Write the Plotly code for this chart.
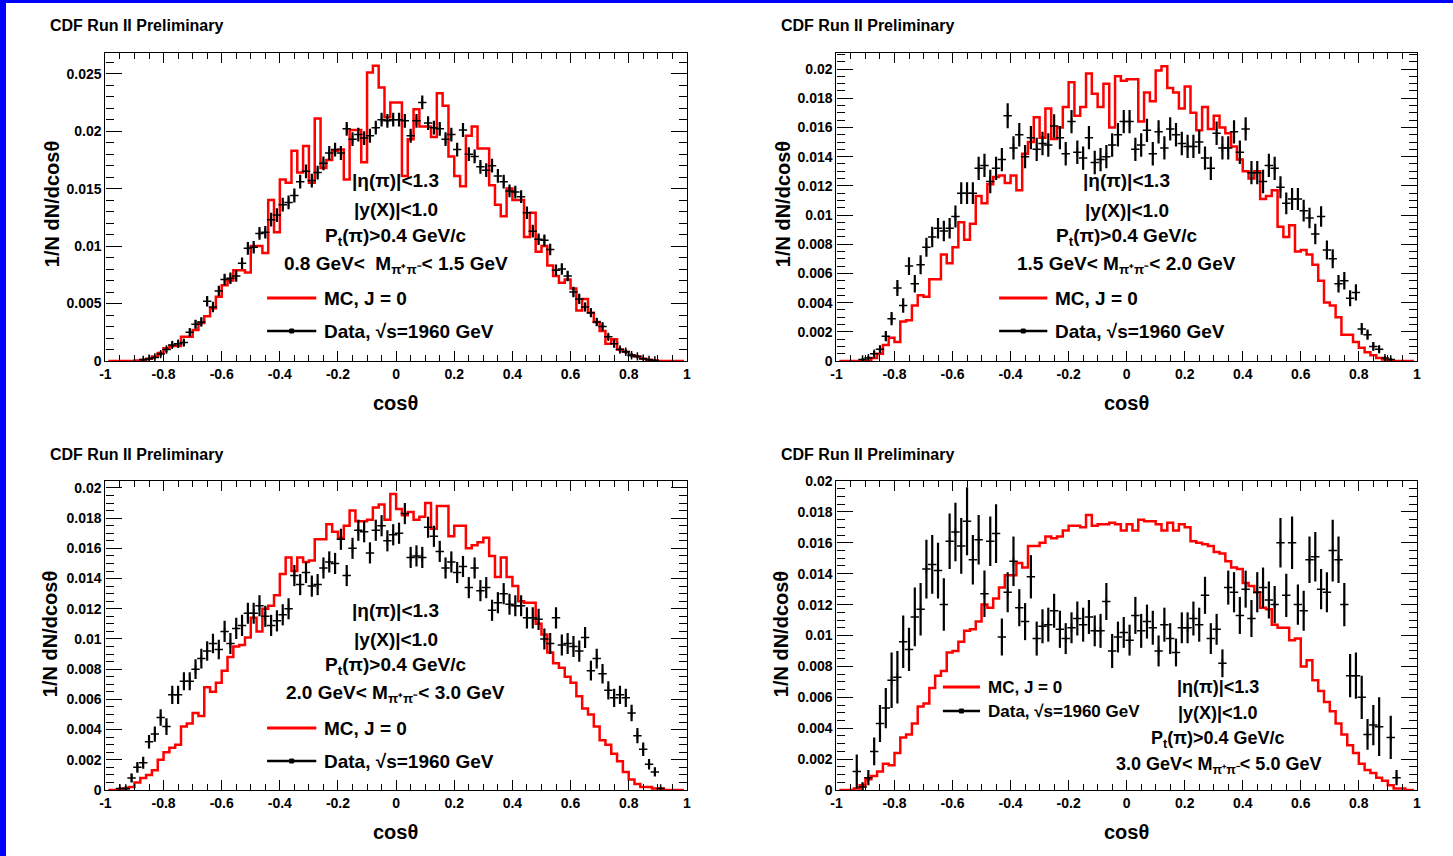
import numpy as np
import plotly.graph_objects as go

W, H = 1453, 856
FONT = "Liberation Sans, Arial, Helvetica, sans-serif"

# ---------------- data (values in units of 1e-3) ----------------
cos_bins = np.round(np.linspace(-0.99, 0.99, 100), 2)

mc_p1 = [0, 0, 0, 0, 0, 0.05, 0.1, 0.2, 0.4, 0.7,
         1.1, 1.3, 1.3, 2.1, 2.1, 2.7, 3.3, 3.9, 4.6, 5.6,
         6.6, 7.0, 7.9, 7.9, 7.7, 10.0, 10.0, 9.4, 14.0, 11.2,
         15.8, 15.5, 18.3, 16.4, 18.7, 15.5, 21.1, 16.8, 17.5, 18.3,
         18.4, 15.8, 20.1, 20.1, 17.3, 25.1, 25.7, 23.8, 21.2, 22.5,
         22.5, 16.1, 19.3, 21.9, 20.4, 20.4, 19.5, 23.3, 22.2, 17.8,
         16.1, 15.2, 19.6, 20.4, 18.5, 18.5, 15.3, 13.6, 12.6, 15.0,
         14.0, 14.0, 10.8, 12.9, 9.5, 10.0, 8.3, 7.4, 6.8, 7.1,
         6.3, 4.4, 5.4, 4.2, 3.4, 2.6, 1.5, 1.9, 1.0, 0.8,
         0.5, 0.4, 0.2, 0.1, 0.05, 0, 0, 0, 0, 0]
data_p1 = [None, None, None, None, None, None, 0.1, 0.2, 0.3, 0.6,
           1.0, 1.4, 1.5, 1.6, 2.5, 3.2, 3.4, 5.2, 4.7, 6.1,
           7.1, 7.2, 7.4, 8.5, 9.8, 9.9, 11.1, 11.2, 12.3, 12.7,
           13.6, 13.8, 14.4, 15.6, 16.5, 15.7, 16.4, 17.2, 18.1, 18.4,
           18.1, 20.2, 19.3, 19.7, 19.4, 19.6, 20.3, 21.0, 20.9, 21.0,
           21.0, 20.9, 19.6, 20.9, 22.5, 20.7, 20.3, 20.2, 19.3, 19.7,
           18.4, 20.1, 18.0, 17.8, 16.9, 16.6, 17.0, 16.1, 15.6, 14.8,
           14.7, 14.3, 12.9, 11.3, 10.6, 10.5, 9.7, 7.9, 8.0, 7.4,
           6.0, 5.4, 4.7, 4.2, 3.4, 3.0, 2.1, 1.5, 1.0, 0.8,
           0.5, 0.4, 0.2, 0.1, 0.05, None, None, None, None, None]
err_p1 = [0, 0, 0, 0, 0, 0,
          0.1, 0.1, 0.15, 0.2, 0.25, 0.3, 0.3, 0.3, 0.35, 0.4,
          0.4, 0.45, 0.45, 0.45, 0.5, 0.5, 0.5, 0.5, 0.55, 0.55,
          0.55, 0.55, 0.6, 0.6, 0.6, 0.6, 0.6, 0.6, 0.6, 0.6,
          0.6, 0.6, 0.6, 0.6, 0.6, 0.6, 0.6, 0.6, 0.6, 0.6,
          0.6, 0.6, 0.6, 0.6,
          0.6, 0.6, 0.6, 0.6, 0.6, 0.6, 0.6, 0.6, 0.6, 0.6,
          0.6, 0.6, 0.6, 0.6, 0.6, 0.6, 0.6, 0.6, 0.6, 0.55,
          0.55, 0.55, 0.55, 0.55, 0.5, 0.5, 0.5, 0.5, 0.5, 0.45,
          0.45, 0.45, 0.4, 0.4, 0.35, 0.35, 0.3, 0.3, 0.25, 0.2,
          0.2, 0.15, 0.1, 0.1, 0.05, 0, 0, 0, 0, 0]

mc_p2 = [0, 0, 0, 0, 0, 0, 0.2, 0.5, 1.1, 1.6,
         1.3, 2.7, 2.8, 3.8, 4.5, 4.4, 5.6, 5.6, 7.3, 6.7,
         7.8, 9.5, 8.3, 9.4, 11.3, 10.8, 12.1, 12.6, 12.7, 12.2,
         12.7, 11.7, 14.2, 15.0, 16.7, 15.3, 17.3, 15.2, 16.0, 17.4,
         19.1, 16.8, 17.4, 19.7, 18.3, 17.4, 19.0, 16.0, 19.5, 19.2,
         19.3, 19.3, 16.4, 18.4, 17.8, 19.9, 20.2, 18.7, 18.4, 17.3,
         18.8, 17.0, 15.8, 17.4, 15.9, 16.8, 16.0, 15.6, 14.7, 13.8,
         13.0, 12.5, 13.0, 11.1, 11.3, 11.7, 9.2, 8.5, 9.3, 7.5,
         7.6, 7.3, 6.6, 5.5, 4.0, 3.8, 3.0, 1.8, 1.8, 1.3,
         0.9, 0.6, 0.4, 0.2, 0.1, 0, 0, 0, 0, 0]
data_p2 = [None, None, None, None, 0.1, 0.2, 0.5, 0.8, 1.7, 2.9,
           5.0, 3.8, 6.5, 5.3, 6.6, 7.8, 8.5, 9.1, 8.9, 9.1,
           9.9, 11.5, 11.5, 11.5, 13.2, 13.4, 12.3, 13.2, 13.8, 16.8,
           14.6, 15.5, 14.0, 15.3, 14.5, 14.9, 14.8, 16.1, 15.3, 14.2,
           16.4, 14.3, 13.9, 15.3, 13.6, 13.8, 14.0, 14.8, 15.5, 16.4,
           16.4, 14.5, 14.8, 15.8, 14.2, 15.7, 14.6, 15.9, 15.5, 14.9,
           14.7, 14.7, 15.0, 13.9, 13.2, 15.6, 14.6, 14.6, 15.7, 14.3,
           15.9, 12.9, 12.9, 12.3, 13.4, 13.2, 11.9, 10.8, 11.1, 11.1,
           10.3, 9.8, 8.7, 9.9, 7.6, 7.0, 5.3, 5.5, 4.3, 4.7,
           2.2, 1.8, 1.0, 0.8, 0.2, 0.1, None, None, None, None]
err_p2 = [0, 0, 0, 0, 0.1, 0.15, 0.2, 0.25, 0.35, 0.45,
          0.55, 0.5, 0.6, 0.6, 0.65, 0.65, 0.7, 0.7, 0.7, 0.7,
          0.75, 0.75, 0.75, 0.75, 0.8, 0.8, 0.8, 0.8, 0.8, 0.85,
          0.8, 0.8, 0.8, 0.8, 0.8, 0.8, 0.8, 0.8, 0.8, 0.8,
          0.8, 0.8, 0.8, 0.8, 0.8, 0.8, 0.8, 0.8, 0.8, 0.8,
          0.8, 0.8, 0.8, 0.8, 0.8, 0.8, 0.8, 0.8, 0.8, 0.8,
          0.8, 0.8, 0.8, 0.8, 0.8, 0.8, 0.8, 0.8, 0.8, 0.8,
          0.8, 0.8, 0.8, 0.8, 0.8, 0.8, 0.75, 0.75, 0.75, 0.75,
          0.75, 0.7, 0.7, 0.7, 0.65, 0.65, 0.6, 0.6, 0.55, 0.55,
          0.4, 0.35, 0.3, 0.25, 0.15, 0.1, 0, 0, 0, 0]

mc_p3 = [0, 0, 0, 0.1, 0.2, 0.5, 0.8, 1.0, 1.3, 2.0,
         2.5, 2.8, 3.0, 4.2, 4.4, 5.1, 4.9, 6.8, 6.5, 7.1,
         7.9, 8.8, 9.5, 9.6, 10.1, 11.4, 10.5, 12.0, 12.2, 12.9,
         14.3, 15.4, 14.5, 15.4, 15.1, 15.2, 16.6, 16.6, 17.6, 17.1,
         16.7, 17.5, 18.5, 17.8, 17.8, 17.9, 18.7, 18.9, 17.9, 19.6,
         18.6, 18.2, 18.4, 17.9, 18.1, 19.0, 17.3, 18.8, 18.8, 16.8,
         17.5, 17.5, 16.0, 16.2, 16.4, 16.7, 15.5, 14.1, 15.4, 14.1,
         13.5, 12.5, 12.4, 12.4, 11.0, 10.3, 9.1, 8.4, 8.1, 7.5,
         7.1, 6.2, 5.4, 5.0, 4.2, 3.3, 3.0, 2.4, 1.9, 1.2,
         0.7, 0.4, 0.2, 0.2, 0.1, 0.1, 0, 0, 0, 0]
data_p3 = [None, None, 0.1, 0.1, 0.8, 1.5, 1.8, 3.2, 3.7, 4.8,
           4.2, 6.3, 6.3, 7.2, 7.2, 8.0, 8.7, 9.2, 9.7, 9.3,
           10.5, 9.7, 10.7, 10.9, 11.7, 11.7, 12.2, 11.5, 10.9, 11.2,
           11.6, 12.0, 14.2, 13.6, 14.4, 13.5, 13.6, 14.7, 15.1, 15.0,
           16.6, 14.2, 16.0, 17.2, 17.1, 15.7, 17.2, 17.5, 16.5, 16.9,
           17.0, 18.3, 15.4, 15.5, 15.4, 17.4, 16.8, 15.8, 14.7, 15.1,
           14.4, 14.8, 13.4, 14.7, 13.2, 13.4, 11.9, 12.4, 13.0, 12.3,
           12.2, 12.2, 11.4, 11.4, 11.3, 10.0, 9.7, 11.4, 9.6, 9.7,
           9.5, 9.2, 10.1, 7.9, 8.7, 7.7, 6.6, 6.1, 6.3, 6.1,
           5.1, 3.6, 2.7, 1.7, 1.2, 0.1, None, None, None, None]
err_p3 = [0, 0, 0.1, 0.15, 0.3, 0.35, 0.4, 0.45, 0.5, 0.55,
          0.55, 0.6, 0.6, 0.6, 0.6, 0.65, 0.65, 0.65, 0.65, 0.65,
          0.7, 0.7, 0.7, 0.7, 0.7, 0.7, 0.7, 0.7, 0.7, 0.7,
          0.7, 0.7, 0.7, 0.7, 0.7, 0.7, 0.7, 0.7, 0.7, 0.7,
          0.7, 0.7, 0.7, 0.7, 0.7, 0.7, 0.7, 0.7, 0.7, 0.7,
          0.7, 0.7, 0.7, 0.7, 0.7, 0.7, 0.7, 0.7, 0.7, 0.7,
          0.7, 0.7, 0.7, 0.7, 0.7, 0.7, 0.7, 0.7, 0.7, 0.7,
          0.7, 0.7, 0.7, 0.7, 0.7, 0.7, 0.7, 0.7, 0.7, 0.7,
          0.7, 0.7, 0.7, 0.65, 0.65, 0.65, 0.6, 0.6, 0.6, 0.6,
          0.55, 0.5, 0.45, 0.35, 0.3, 0.1, 0, 0, 0, 0]

mc_p4 = [0, 0, 0, 0.1, 0.3, 0.7, 0.9, 1.2, 1.7, 1.6,
         2.4, 3.4, 3.6, 4.3, 5.4, 5.6, 6.6, 7.4, 7.7, 8.9,
         9.0, 9.6, 10.3, 10.4, 10.9, 12.0, 11.8, 12.4, 13.1, 13.9,
         13.9, 14.7, 14.4, 15.8, 15.8, 16.0, 16.4, 16.3, 16.4, 16.8,
         17.1, 17.1, 17.0, 17.8, 17.1, 17.2, 17.2, 17.3, 17.2, 16.8,
         17.2, 16.8, 17.5, 17.4, 17.4, 17.2, 16.8, 17.3, 16.8, 17.2,
         17.0, 16.1, 16.0, 15.9, 15.8, 15.4, 15.3, 14.8, 14.4, 14.3,
         13.4, 13.2, 12.8, 11.8, 11.7, 10.7, 10.5, 10.5, 9.7, 9.8,
         8.0, 8.4, 7.1, 6.4, 5.7, 5.1, 4.3, 3.6, 2.9, 2.4,
         1.7, 1.3, 1.1, 0.8, 0.6, 0.3, 0.1, 0.1, 0, 0]
data_p4 = [None, None, None, 1.2, 0.2, 0.8, 2.5, 4.3, 5.3, 7.1,
           7.3, 9.6, 9.1, 11.2, 11.7, 14.3, 14.6, 14.2, 12.0, 16.1,
           16.7, 15.8, 17.4, 14.9, 16.2, 12.7, 16.1, 16.6, 9.9, 12.8,
           14.8, 11.8, 10.9, 13.8, 9.8, 10.6, 10.7, 11.6, 10.4, 9.8,
           10.5, 11.1, 10.7, 11.2, 10.3, 10.3, 12.2, 9.0, 9.9, 10.2,
           9.7, 11.3, 10.3, 10.9, 10.5, 9.0, 10.7, 9.8, 8.9, 10.5,
           10.5, 11.1, 10.7, 12.6, 9.8, 10.4, 8.2, 13.1, 12.8, 11.3,
           13.0, 11.1, 12.8, 13.1, 12.3, 12.0, 16.0, 12.6, 16.0, 12.0,
           11.6, 14.9, 15.1, 13.0, 12.8, 15.5, 14.9, 12.0, 7.4, 7.4,
           6.0, 3.6, 4.2, 4.1, None, 3.4, 0.8, None, None, None]
err_p4 = [0, 0, 0, 1.1, 0.3, 0.5, 0.9, 1.2, 1.3, 1.8,
          1.7, 1.7, 1.4, 1.9, 1.7, 1.9, 1.9, 1.8, 1.7, 1.8,
          1.9, 1.8, 2.2, 1.6, 1.6, 1.5, 1.6, 1.9, 1.2, 1.3,
          1.6, 1.2, 1.2, 1.4, 1.1, 1.1, 1.1, 1.1, 1.2, 1.0,
          1.0, 1.1, 1.1, 1.1, 1.0, 1.1, 1.2, 1.1, 1.0, 1.0,
          1.0, 1.2, 1.1, 1.1, 1.1, 1.0, 1.1, 1.0, 0.9, 1.0,
          1.0, 1.1, 1.1, 1.2, 1.0, 1.0, 0.9, 1.1, 1.3, 1.2,
          1.2, 1.2, 1.3, 1.3, 1.2, 1.2, 1.6, 1.4, 1.7, 1.3,
          1.3, 1.5, 1.6, 1.3, 1.3, 2.0, 1.5, 1.4, 1.4, 1.5,
          1.4, 1.0, 1.3, 1.9, 0, 1.4, 0.5, 0, 0, 0]

x_tick_vals = [-1, -0.8, -0.6, -0.4, -0.2, 0, 0.2, 0.4, 0.6, 0.8, 1]
x_tick_text = ["-1", "-0.8", "-0.6", "-0.4", "-0.2", "0", "0.2", "0.4", "0.6", "0.8", "1"]
y1_tick_vals = [0, 0.005, 0.01, 0.015, 0.02, 0.025]
y1_tick_text = ["0", "0.005", "0.01", "0.015", "0.02", "0.025"]
y2_tick_vals = [0, 0.002, 0.004, 0.006, 0.008, 0.01, 0.012, 0.014, 0.016, 0.018, 0.02]
y2_tick_text = ["0", "0.002", "0.004", "0.006", "0.008", "0.01", "0.012", "0.014", "0.016", "0.018", "0.02"]

cuts = ["|η(π)|<1.3", "|y(X)|<1.0", "P<sub>t</sub>(π)>0.4 GeV/c"]
mass_labels = ["0.8 GeV<\u00a0\u00a0M<sub>π⁺π⁻</sub>< 1.5 GeV",
               "1.5 GeV< M<sub>π⁺π⁻</sub>< 2.0 GeV",
               "2.0 GeV< M<sub>π⁺π⁻</sub>< 3.0 GeV",
               "3.0 GeV< M<sub>π⁺π⁻</sub>< 5.0 GeV"]
mc_label = "MC, J = 0"
data_label = "Data, √s=1960 GeV"


def arr(v):
    return np.array([np.nan if a is None else a for a in v], dtype=float) * 1e-3


# ---------------- layout geometry (pixels) ----------------
panels = [
    dict(x0=107, x1=686, y0=53, y1=361, ymax=0.0268, yv=y1_tick_vals, yt=y1_tick_text,
         minor=0.001, mc=mc_p1, data=data_p1, err=err_p1),
    dict(x0=835, x1=1413, y0=53, y1=361, ymax=0.0211, yv=y2_tick_vals, yt=y2_tick_text,
         minor=0.0005, mc=mc_p2, data=data_p2, err=err_p2),
    dict(x0=107, x1=686, y0=481, y1=790, ymax=0.02046, yv=y2_tick_vals, yt=y2_tick_text,
         minor=0.0005, mc=mc_p3, data=data_p3, err=err_p3),
    dict(x0=835, x1=1413, y0=481, y1=790, ymax=0.0200, yv=y2_tick_vals, yt=y2_tick_text,
         minor=0.0005, mc=mc_p4, data=data_p4, err=err_p4),
]

# the plotting area observed in the rendered page is inset by this many pixels
INSET = 8
PW, PH = W - 2 * INSET, H - 2 * INSET


def fx(px):
    return (px - INSET) / PW


def fy(py):
    return 1 - (py - INSET) / PH


fig = go.Figure()
layout = dict(width=W, height=H, margin=dict(l=0, r=0, t=0, b=0, pad=0),
              paper_bgcolor="#0000FF", plot_bgcolor="white", showlegend=False,
              font=dict(family=FONT, color="black"))

tickfont = dict(family=FONT, size=14, color="black", weight="bold")
for i, p in enumerate(panels):
    n = "" if i == 0 else str(i + 1)
    layout["xaxis" + n] = dict(
        domain=[fx(p["x0"]), fx(p["x1"])], range=[-1, 1], anchor="y" + n,
        showline=True, mirror="allticks", linecolor="black", linewidth=1.2,
        ticks="inside", ticklen=10, tickwidth=1.2, tickcolor="black",
        tickmode="array", tickvals=x_tick_vals, ticktext=x_tick_text,
        minor=dict(ticks="inside", ticklen=6, tickwidth=1, tickcolor="black",
                   tickmode="linear", tick0=-1, dtick=0.05, showgrid=False),
        showgrid=False, zeroline=False, tickfont=tickfont, fixedrange=True)
    layout["yaxis" + n] = dict(
        domain=[fy(p["y1"]), fy(p["y0"])], range=[0, p["ymax"]], anchor="x" + n,
        showline=True, mirror="allticks", linecolor="black", linewidth=1.2,
        ticks="inside", ticklen=16, tickwidth=1.2, tickcolor="black",
        tickmode="array", tickvals=p["yv"], ticktext=p["yt"],
        minor=dict(ticks="inside", ticklen=8, tickwidth=1, tickcolor="black",
                   tickmode="linear", tick0=0, dtick=p["minor"], showgrid=False),
        showgrid=False, zeroline=False, tickfont=tickfont, fixedrange=True)

    fig.add_trace(go.Scatter(
        x=cos_bins, y=arr(p["mc"]), mode="lines",
        line=dict(color="#FF0000", width=2.5, shape="hvh"),
        xaxis="x" + n, yaxis="y" + n, hoverinfo="skip"))
    fig.add_trace(go.Scatter(
        x=cos_bins, y=arr(p["data"]), mode="markers",
        marker=dict(color="black", size=6, symbol="cross-thin",
                    line=dict(color="black", width=1.5)),
        error_y=dict(type="data", array=arr(p["err"]), color="black",
                     thickness=2.2, width=0),
        xaxis="x" + n, yaxis="y" + n, hoverinfo="skip"))

annotations = []
shapes = [dict(type="rect", xref="paper", yref="paper", x0=fx(8), x1=fx(W + 2),
               y0=fy(H + 2), y1=fy(3), fillcolor="white", line=dict(width=0), layer="below")]


def txt(s, px, py, size, xanchor="center", angle=0):
    annotations.append(dict(text=s, x=fx(px), y=fy(py), xref="paper", yref="paper",
                            xanchor=xanchor, yanchor="middle", showarrow=False,
                            textangle=angle,
                            font=dict(family=FONT, size=size, color="black", weight="bold")))


# header labels and axis titles
for (hx, hy) in [(50, 25), (778, 25), (50, 454), (778, 454)]:
    txt("CDF Run II Preliminary", hx, hy, 16, xanchor="left")
for (ax_x, ax_y) in [(54, 204), (782, 204), (52, 634), (780, 634)]:
    txt("1/N dN/dcosθ", ax_x, ax_y, 20, angle=-90)
for (tx, ty) in [(396, 403), (1124, 403), (396, 832), (1124, 832)]:
    txt("cosθ", tx, ty, 20)

# cut texts
cut_pos = [(396, [181, 209, 237, 265]), (1124, [181, 210, 237, 265]),
           (396, [610, 639, 666, 694]), (1215, [687, 713, 739, 765])]
for k, (cx, ys) in enumerate(cut_pos):
    size = 19 if k < 3 else 18
    for j, s in enumerate(cuts + [mass_labels[k]]):
        txt(s, cx, ys[j], size)

# legends
leg = [(268, 317, 298, 331, 19), (997, 1045, 298, 331, 19),
       (268, 317, 728, 761, 19), (941, 978, 687, 711, 17)]
for (lx0, lx1, ly1, ly2, size) in leg:
    shapes.append(dict(type="line", xref="paper", yref="paper", x0=fx(lx0), x1=fx(lx1),
                       y0=fy(ly1), y1=fy(ly1), line=dict(color="#FF0000", width=3)))
    shapes.append(dict(type="line", xref="paper", yref="paper", x0=fx(lx0), x1=fx(lx1),
                       y0=fy(ly2), y1=fy(ly2), line=dict(color="black", width=2.5)))
    mx = (lx0 + lx1) / 2
    shapes.append(dict(type="rect", xref="paper", yref="paper", x0=fx(mx - 2), x1=fx(mx + 2),
                       y0=fy(ly2 + 2), y1=fy(ly2 - 2), fillcolor="black",
                       line=dict(color="black", width=1)))
    txt(mc_label, lx1 + 6, ly1, size, xanchor="left")
    txt(data_label, lx1 + 6, ly2, size, xanchor="left")

layout["annotations"] = annotations
layout["shapes"] = shapes
fig.update_layout(**layout)
fig.write_html("out.html")
